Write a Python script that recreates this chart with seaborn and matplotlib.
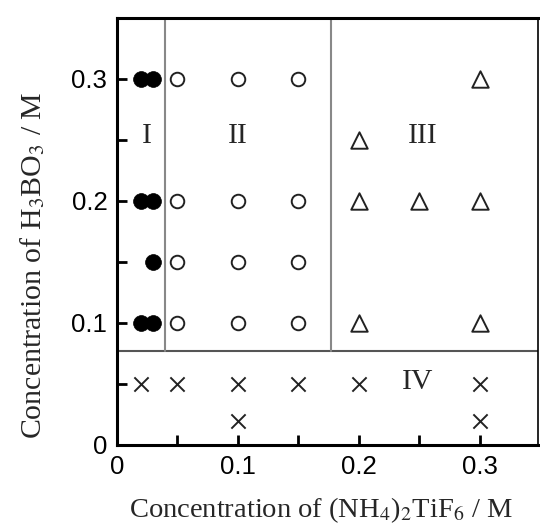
import matplotlib
matplotlib.use("Agg")
import matplotlib.pyplot as plt
import seaborn as sns
import pandas as pd
from matplotlib.ticker import FixedLocator

# ---- data ----
filled_x = [0.02, 0.03, 0.02, 0.03, 0.03, 0.02, 0.03]
filled_y = [0.30, 0.30, 0.20, 0.20, 0.15, 0.10, 0.10]
open_x = [0.05, 0.05, 0.05, 0.05, 0.10, 0.10, 0.10, 0.10, 0.15, 0.15, 0.15, 0.15]
open_y = [0.30, 0.20, 0.15, 0.10, 0.30, 0.20, 0.15, 0.10, 0.30, 0.20, 0.15, 0.10]
tri_x = [0.30, 0.20, 0.20, 0.25, 0.30, 0.20, 0.30]
tri_y = [0.30, 0.25, 0.20, 0.20, 0.20, 0.10, 0.10]
cross_x = [0.02, 0.05, 0.10, 0.15, 0.20, 0.30, 0.10, 0.30]
cross_y = [0.05, 0.05, 0.05, 0.05, 0.05, 0.05, 0.02, 0.02]

region_labels = ["I", "II", "III", "IV"]
region_x = [0.025, 0.10, 0.253, 0.249]
region_y = [0.253, 0.253, 0.253, 0.052]

h_boundary = 0.077
v_boundaries = [0.040, 0.177]

xticks_major = [0, 0.1, 0.2, 0.3]
xtick_labels = ["0", "0.1", "0.2", "0.3"]
yticks_major = [0, 0.1, 0.2, 0.3]
ytick_labels = ["0", "0.1", "0.2", "0.3"]

df = pd.concat([
    pd.DataFrame({"x": filled_x, "y": filled_y, "phase": "I"}),
    pd.DataFrame({"x": open_x, "y": open_y, "phase": "II"}),
    pd.DataFrame({"x": tri_x, "y": tri_y, "phase": "III"}),
    pd.DataFrame({"x": cross_x, "y": cross_y, "phase": "IV"}),
], ignore_index=True)

sns.set_style("ticks")
plt.rcParams["font.family"] = ["Liberation Sans", "DejaVu Sans"]
plt.rcParams["mathtext.fontset"] = "stix"

fig = plt.figure(figsize=(5.4, 5.26), dpi=100)
ax = fig.add_axes([0.2167, 0.154, 0.7793, 0.812])

sns.scatterplot(data=df[df.phase == "I"], x="x", y="y", ax=ax, marker="o",
                s=130, color="black", edgecolor="black", linewidth=0.5, zorder=3)
sns.scatterplot(data=df[df.phase == "II"], x="x", y="y", ax=ax, marker="o",
                s=95, facecolor="white", edgecolor="#222222", linewidth=1.4, zorder=3)
sns.scatterplot(data=df[df.phase == "III"], x="x", y="y", ax=ax, marker="^",
                s=140, facecolor="white", edgecolor="#222222", linewidth=1.4, zorder=3)
sns.scatterplot(data=df[df.phase == "IV"], x="x", y="y", ax=ax, marker="x",
                s=105, color="#222222", linewidth=1.4, zorder=3)

ax.set_xlim(0, 0.348)
ax.set_ylim(0, 0.35)

ax.axhline(h_boundary, color="#555555", lw=1.5, zorder=2)
for vb in v_boundaries:
    ax.axvline(vb, ymin=h_boundary / 0.35, ymax=1, color="#888888", lw=1.5, zorder=2)

serif = ["Liberation Serif", "DejaVu Serif"]
for lab, lx, ly in zip(region_labels, region_x, region_y):
    ax.text(lx, ly, lab, ha="center", va="center", fontsize=21.5,
            family=serif, zorder=4)

ax.xaxis.set_major_locator(FixedLocator(xticks_major))
ax.set_xticklabels(xtick_labels)
ax.yaxis.set_major_locator(FixedLocator(yticks_major))
ax.set_yticklabels(ytick_labels)
ax.xaxis.set_minor_locator(FixedLocator([0.05, 0.15, 0.25]))
ax.yaxis.set_minor_locator(FixedLocator([0.05, 0.15, 0.25]))
ax.tick_params(which="both", direction="in", length=7, width=2, colors="black",
               labelsize=18.5, pad=7)

for sp in ["left", "bottom", "top"]:
    ax.spines[sp].set_linewidth(2.2)
ax.spines["right"].set_linewidth(1.2)
for sp in ax.spines.values():
    sp.set_color("black")

ax.set_xlabel(r"Concentration of (NH$_4$)$_2$TiF$_6$ / M", fontsize=20.5,
              family=serif)
ax.set_ylabel(r"Concentration of H$_3$BO$_3$ / M", fontsize=21.5,
              family=serif)
ax.xaxis.set_label_coords(0.485, -0.118)
ax.yaxis.set_label_coords(-0.165, 0.42)

fig.savefig("out.png", dpi=100)
